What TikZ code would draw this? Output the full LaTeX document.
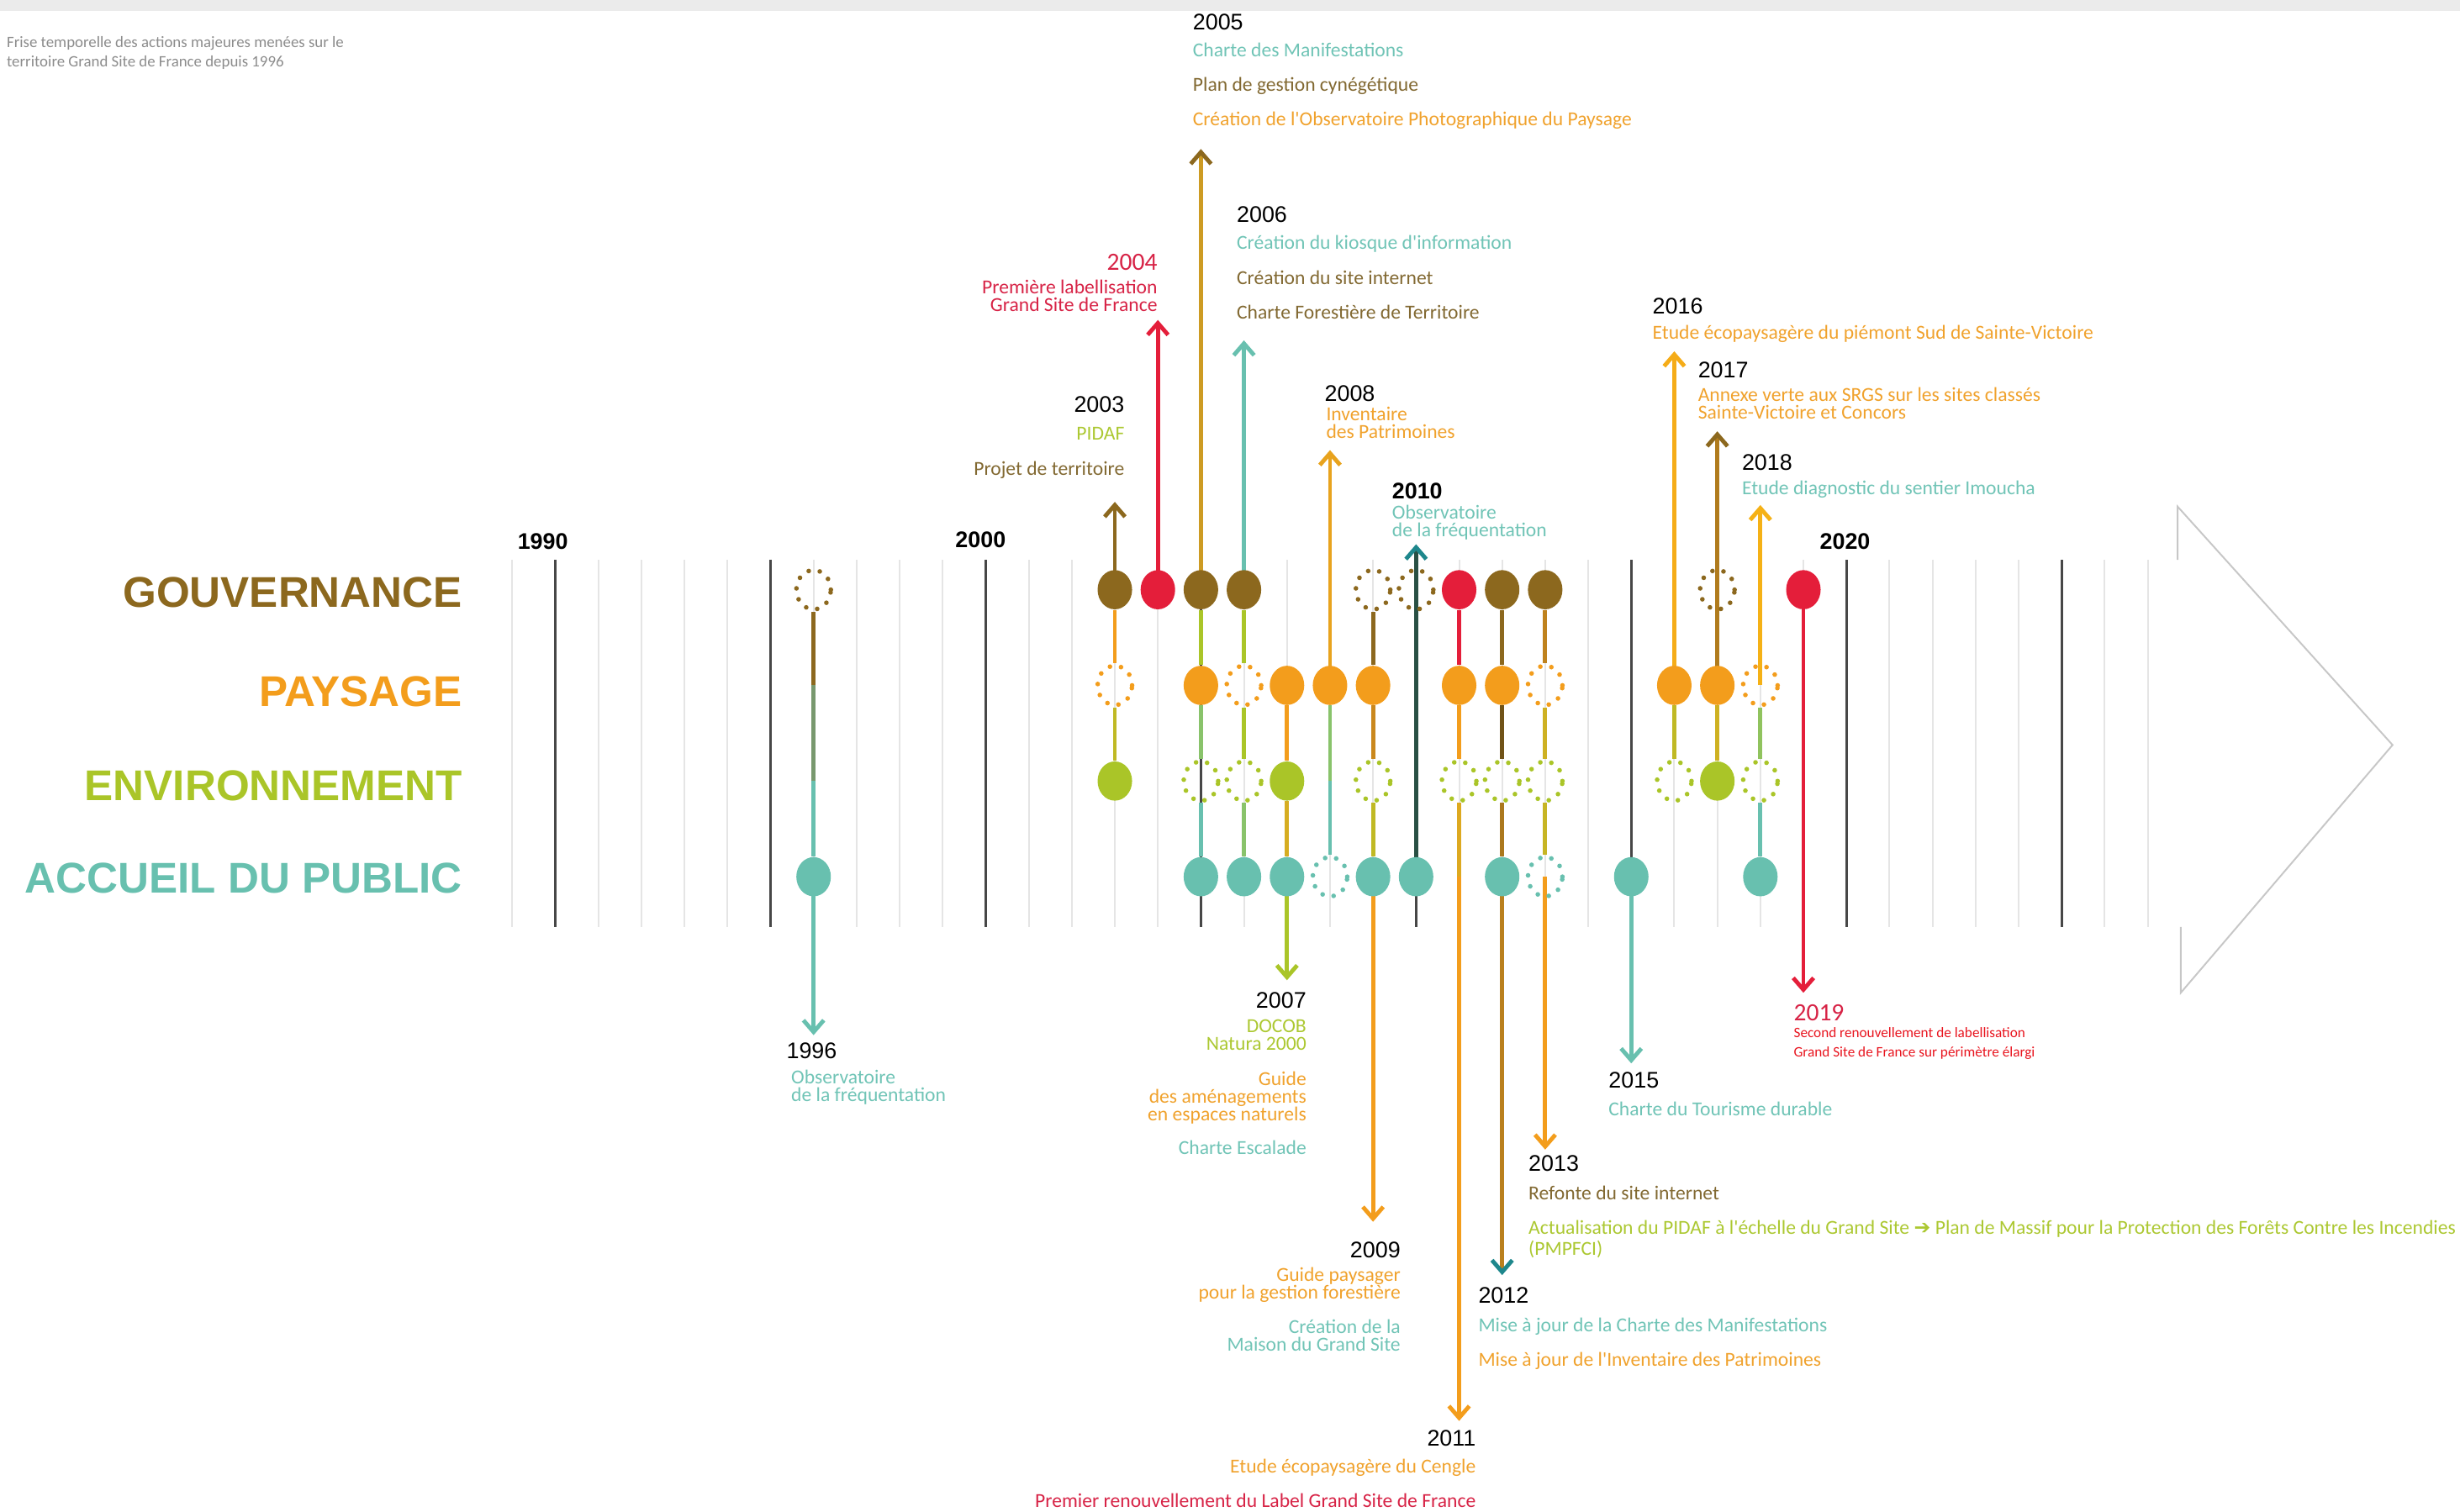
\documentclass[tikz,border=0pt]{standalone}
\usepackage{fontspec}
\setmainfont{Liberation Sans}
\newfontfamily\lblfont{Carlito}
\newfontfamily\gillfont{Carlito}
\newfontfamily\symfont{DejaVu Sans}
\usetikzlibrary{arrows.meta,positioning,shapes.geometric}

% row colours
\definecolor{gv}{RGB}{140,104,30}
\definecolor{py}{RGB}{243,157,28}
\definecolor{en}{RGB}{170,197,40}
\definecolor{ac}{RGB}{104,192,175}
\definecolor{rd}{RGB}{228,30,58}
\definecolor{dt}{RGB}{30,135,140}
\definecolor{gold}{RGB}{205,155,35}
% text colours
\definecolor{gvT}{RGB}{130,105,50}
\definecolor{pyT}{RGB}{240,162,45}
\definecolor{enT}{RGB}{172,200,50}
\definecolor{acT}{RGB}{112,196,182}
\definecolor{rdT}{RGB}{215,35,70}
\definecolor{redT}{RGB}{232,20,30}

\pgfdeclarelayer{grid}
\pgfdeclarelayer{stems}
\pgfsetlayers{grid,stems,main}

\tikzset{
  declare function={yx(\q)=354+(\q-1990)*27.43;},
  dot/.style={ellipse,minimum width=4.4mm,minimum height=5mm,inner sep=0},
  spot/.style={dot,fill=#1},
  ring/.style={dot,draw=#1,line width=1.7pt,dash pattern=on 0pt off 4.1pt,line cap=round},
  stem/.style={line width=1.5pt},
  arr/.style={stem,-{Straight Barb[length=1.5mm,width=2.6mm,#1]}},
  arr/.default={},
  lbl/.style={inner sep=0,font=\lblfont\fontsize{7.2}{6.4}\selectfont},
  yr/.style={inner sep=0,font=\fontsize{8.2}{9}\selectfont},
  cat/.style={inner sep=0,anchor=east,font=\fontsize{15.6}{18}\selectfont\bfseries},
}

\begin{document}
\begin{tikzpicture}[x=0.2mm,y=-0.2mm]
\useasboundingbox (0,0) rectangle (1568,964);
\fill[black!8] (0,0) rectangle (1568,7);
\node[inner sep=0,anchor=north west,align=left,text=black!45,font=\gillfont\fontsize{5.75}{6.9}\selectfont] (title) at (4,23)
  {Frise temporelle des actions majeures menées sur le\\territoire Grand Site de France depuis 1996};

% axis grid and big arrow head
\begin{pgfonlayer}{grid}
\foreach \q in {1989,...,2027}{
  \pgfmathtruncatemacro\m{mod(\q,5)}
  \ifnum\m=0
    \draw[line width=0.9pt,black!72] ({yx(\q)},357) -- ({yx(\q)},591);
  \else
    \draw[line width=0.6pt,black!10] ({yx(\q)},357) -- ({yx(\q)},591);
  \fi}
\draw[black!22,line width=0.6pt] (1388,357) -- (1388,323) -- (1525,475) -- (1390,633) -- (1390,591);
\end{pgfonlayer}

\node[yr,font=\fontsize{8.2}{9}\selectfont\bfseries] (y1990) at (346,345) {1990};
\node[yr,font=\fontsize{8.2}{9}\selectfont\bfseries] (y2000) at (625,344) {2000};
\node[yr,font=\fontsize{8.2}{9}\selectfont\bfseries] (y2020) at (1176,345) {2020};

\node[cat,text=gv] (cgov) at (295,378) {GOUVERNANCE};
\node[cat,text=py] (cpay) at (295,441) {PAYSAGE};
\node[cat,text=en] (cenv) at (295,501) {ENVIRONNEMENT};
\node[cat,text=ac] (cacc) at (295,560) {ACCUEIL DU PUBLIC};

% row positions of every event column
\foreach \q in {1996,2003,2004,2005,2006,2007,2008,2009,2010,2011,2012,2013,2015,2016,2017,2018,2019}
  \foreach \r/\h in {g/376,p/437,e/498,a/559}
    \coordinate (\r\q) at ({yx(\q)},\h);

% dots
\foreach \q/\k/\c in {1996/ring/gv,2003/spot/gv,2004/spot/rd,2005/spot/gv,2006/spot/gv,2009/ring/gv,2010/ring/gv,
    2011/spot/rd,2012/spot/gv,2013/spot/gv,2017/ring/gv,2019/spot/rd}
  \node[\k=\c] (g\q) at ({yx(\q)},376) {};
\foreach \q/\k in {2003/ring,2005/spot,2006/ring,2007/spot,2008/spot,2009/spot,2011/spot,2012/spot,2013/ring,
    2016/spot,2017/spot,2018/ring}
  \node[\k=py] (p\q) at ({yx(\q)},437) {};
\foreach \q/\k in {2003/spot,2005/ring,2006/ring,2007/spot,2009/ring,2011/ring,2012/ring,2013/ring,2016/ring,
    2017/spot,2018/ring}
  \node[\k=en] (e\q) at ({yx(\q)},498) {};
\foreach \q/\k in {1996/spot,2005/spot,2006/spot,2007/spot,2008/ring,2009/spot,2010/spot,2012/spot,2013/ring,
    2015/spot,2018/spot}
  \node[\k=ac] (a\q) at ({yx(\q)},559) {};

% arrow ends
\foreach \q/\h in {1996/660,2003/320,2004/204,2005/95,2006/217,2007/625,2008/287,2009/779,2010/347,2011/906,
    2012/813,2013/733,2015/678,2016/224,2017/275,2018/322,2019/633}
  \coordinate (t\q) at ({yx(\q)},\h);

\begin{pgfonlayer}{stems}
\foreach \s/\d/\c in {g1996.south/p1996/gv,p1996/e1996/gv!45!ac,e1996/a1996/ac,
    g2003/p2003/py,p2003/e2003/en!70!py,
    a2005/e2005/ac,e2005/p2005/ac!50!en,p2005/g2005/en,
    a2006/e2006/en!50!ac,e2006/p2006/en,p2006/g2006/en,
    p2007/e2007/py,e2007/a2007/py!60!en,
    a2008.north/e2008/ac,e2008/p2008/ac!50!en,
    g2009.south/p2009/gv,p2009/e2009/py!60!gv,e2009/a2009/en!70!py,
    g2011/p2011/rd,p2011/e2011/py,e2011/a2011/py!70!en,
    g2012/p2012/gv,p2012/e2012/gv!80!black,e2012/a2012/gv!70!py,
    g2013/p2013/gv!50!py,p2013/e2013/py!50!en,e2013/a2013/en!60!py,
    e2016/p2016/en!70!py,e2017/p2017/en!50!py,
    a2018/e2018/ac,e2018/p2018/en!60!ac}
  \draw[stem,color=\c] (\s) -- (\d);
\foreach \s/\q/\c in {a1996/1996/ac,g2003/2003/gv,g2004/2004/rd,g2006/2006/ac,a2007/2007/en,p2008/2008/py!85!en,
    a2009/2009/py,a2011/2011/py,a2013/2013/py,a2015/2015/ac,p2016/2016/py!85!yellow,p2018/2018/py!80!yellow,g2019/2019/rd}
  \draw[arr,color=\c] (\s.center) -- (t\q);
\draw[arr={color=gv},color=gold] (g2005.center) -- (t2005);
\draw[arr={color=dt},color=dt!55!black!80!gv] (a2010.center) -- (t2010);
\draw[arr={color=dt},color=gv!55!py] (a2012.center) -- (t2012);
\draw[arr={color=gv},color=gv!65!py] (p2017.center) -- (t2017);
\end{pgfonlayer}

% years of the events
\node[yr,anchor=west] (n1996) at (501,670) {1996};
\node[yr,anchor=east] (n2003) at (717,258) {2003};
\node[inner sep=0,anchor=east,text=rdT,font=\lblfont\fontsize{9}{10}\selectfont] (n2004) at (738,167) {2004};
\node[yr,anchor=west] (n2005) at (760,14) {2005};
\node[yr,anchor=west] (n2006) at (788,137) {2006};
\node[yr,anchor=east] (n2007) at (833,638) {2007};
\node[yr,anchor=west] (n2008) at (844,251) {2008};
\node[yr,anchor=east] (n2009) at (893,797) {2009};
\node[yr,anchor=west,font=\fontsize{8.2}{9}\selectfont\bfseries] (n2010) at (887,313) {2010};
\node[yr,anchor=east] (n2011) at (941,917) {2011};
\node[yr,anchor=west] (n2012) at (942,826) {2012};
\node[yr,anchor=west] (n2013) at (974,742) {2013};
\node[yr,anchor=west] (n2015) at (1025,689) {2015};
\node[yr,anchor=west] (n2016) at (1053,195) {2016};
\node[yr,anchor=west] (n2017) at (1082,236) {2017};
\node[yr,anchor=west] (n2018) at (1110,295) {2018};
\node[inner sep=0,anchor=west,text=rdT,font=\lblfont\fontsize{9}{10}\selectfont] (n2019) at (1143,646) {2019};

% what was done
\node[lbl,anchor=north west,align=left,text=acT] (d1996) at (504,682) {Observatoire\\de la fréquentation};
\node[lbl,anchor=north east,text=enT] (d2003a) at (717,272) {PIDAF};
\node[lbl,anchor=north east,text=gvT] (d2003b) at (717,294) {Projet de territoire};
\node[lbl,anchor=north east,align=right,text=rdT] (d2004) at (738,178) {Première labellisation\\Grand Site de France};
\node[lbl,anchor=north west,text=acT] (d2005a) at (760,27) {Charte des Manifestations};
\node[lbl,anchor=north west,text=gvT] (d2005b) at (760,49) {Plan de gestion cynégétique};
\node[lbl,anchor=north west,text=pyT] (d2005c) at (760,71) {Création de l'Observatoire Photographique du Paysage};
\node[lbl,anchor=north west,text=acT] (d2006a) at (788,150) {Création du kiosque d'information};
\node[lbl,anchor=north west,text=gvT] (d2006b) at (788,172) {Création du site internet};
\node[lbl,anchor=north west,text=gvT] (d2006c) at (788,194) {Charte Forestière de Territoire};
\node[lbl,anchor=north east,align=right,text=enT] (d2007a) at (833,650) {DOCOB\\Natura 2000};
\node[lbl,anchor=north east,align=right,text=pyT] (d2007b) at (833,683) {Guide\\des aménagements\\en espaces naturels};
\node[lbl,anchor=north east,text=acT] (d2007c) at (833,727) {Charte Escalade};
\node[lbl,anchor=north west,align=left,text=pyT] (d2008) at (845,259) {Inventaire\\des Patrimoines};
\node[lbl,anchor=north east,align=right,text=pyT] (d2009a) at (893,808) {Guide paysager\\pour la gestion forestière};
\node[lbl,anchor=north east,align=right,text=acT] (d2009b) at (893,841) {Création de la\\Maison du Grand Site};
\node[lbl,anchor=north west,align=left,text=acT] (d2010) at (887,322) {Observatoire\\de la fréquentation};
\node[lbl,anchor=north east,text=pyT] (d2011a) at (941,930) {Etude écopaysagère du Cengle};
\node[lbl,anchor=north east,text=rdT] (d2011b) at (941,952) {Premier renouvellement du Label Grand Site de France};
\node[lbl,anchor=north west,text=acT] (d2012a) at (942,840) {Mise à jour de la Charte des Manifestations};
\node[lbl,anchor=north west,text=pyT] (d2012b) at (942,862) {Mise à jour de l'Inventaire des Patrimoines};
\node[lbl,anchor=north west,text=gvT] (d2013a) at (974,756) {Refonte du site internet};
\node[lbl,anchor=north west,align=left,text=enT] (d2013b) at (974,778)
  {Actualisation du PIDAF à l'échelle du Grand Site {\symfont\char"2794} Plan de Massif pour la Protection des Forêts Contre les Incendies\\(PMPFCI)};
\node[lbl,anchor=north west,text=acT] (d2015) at (1025,702) {Charte du Tourisme durable};
\node[lbl,anchor=north west,text=pyT] (d2016) at (1053,207) {Etude écopaysagère du piémont Sud de Sainte-Victoire};
\node[lbl,anchor=north west,align=left,text=pyT] (d2017) at (1082,247) {Annexe verte aux SRGS sur les sites classés\\Sainte-Victoire et Concors};
\node[lbl,anchor=north west,text=acT] (d2018) at (1110,306) {Etude diagnostic du sentier Imoucha};
\node[inner sep=0,anchor=north west,align=left,text=redT,font=\gillfont\fontsize{5.25}{6.8}\selectfont] (d2019) at (1143,655)
  {Second renouvellement de labellisation\\Grand Site de France sur périmètre élargi};
\end{tikzpicture}
\end{document}
